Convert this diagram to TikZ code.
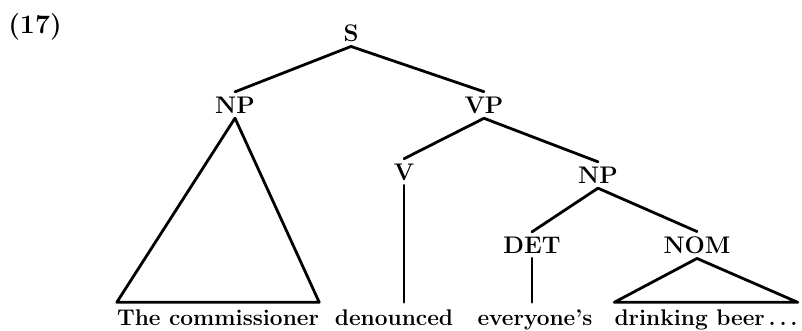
\documentclass[tikz,border=0pt]{standalone}
\usepackage{tikz}
\tikzset{
  cat/.style={inner sep=3.5pt, font=\fontsize{18}{21}\selectfont\bfseries},
  word/.style={anchor=base, inner xsep=0pt, inner ysep=5pt, text height=11.8pt, text depth=3.3pt, font=\fontsize{17}{20}\selectfont\bfseries},
  branch/.style={line width=2.1pt, line cap=round, line join=round}
}
\begin{document}
\begin{tikzpicture}[x=0.75pt,y=-0.75pt]
  \useasboundingbox (0,0) rectangle (802,330);
  \node[cat, font=\fontsize{20}{24}\selectfont\bfseries] (num) at (35,27) {(17)};
  % categories
  \node[cat] (s) at (351,33) {S};
  \node[cat] (np) at (235,105) {NP};
  \node[cat] (vp) at (484,105) {VP};
  \node[cat] (v) at (404,172) {V};
  \node[cat] (npobj) at (598,175) {NP};
  \node[cat] (det) at (532,245) {DET};
  \node[cat] (nom) at (697,245) {NOM};
  % words
  \node[word] (comm) at (218,325) {The commissioner};
  \node[word] (den) at (394,325) {denounced};
  \node[word] (eve) at (535,325) {everyone's};
  \node[word] (drink) at (706,325) {drinking beer\,.\,.\,.};
  % branches
  \draw[branch] (s.south) -- (np.north);
  \draw[branch] (s.south) -- (vp.north);
  \draw[branch] (vp.south) -- (v.north);
  \draw[branch] (vp.south) -- (npobj.north);
  \draw[branch] (npobj.south) -- (det.north);
  \draw[branch] (npobj.south) -- (nom.north);
  \draw[branch] (v.south) -- (v.south |- den.north);
  \draw[branch] (det.south) -- (det.south |- eve.north);
  \draw[branch] (np.south) -- (comm.north west) -- (comm.north east) -- cycle;
  \draw[branch] (nom.south) -- (drink.north west) -- (drink.north east) -- cycle;
\end{tikzpicture}
\end{document}
